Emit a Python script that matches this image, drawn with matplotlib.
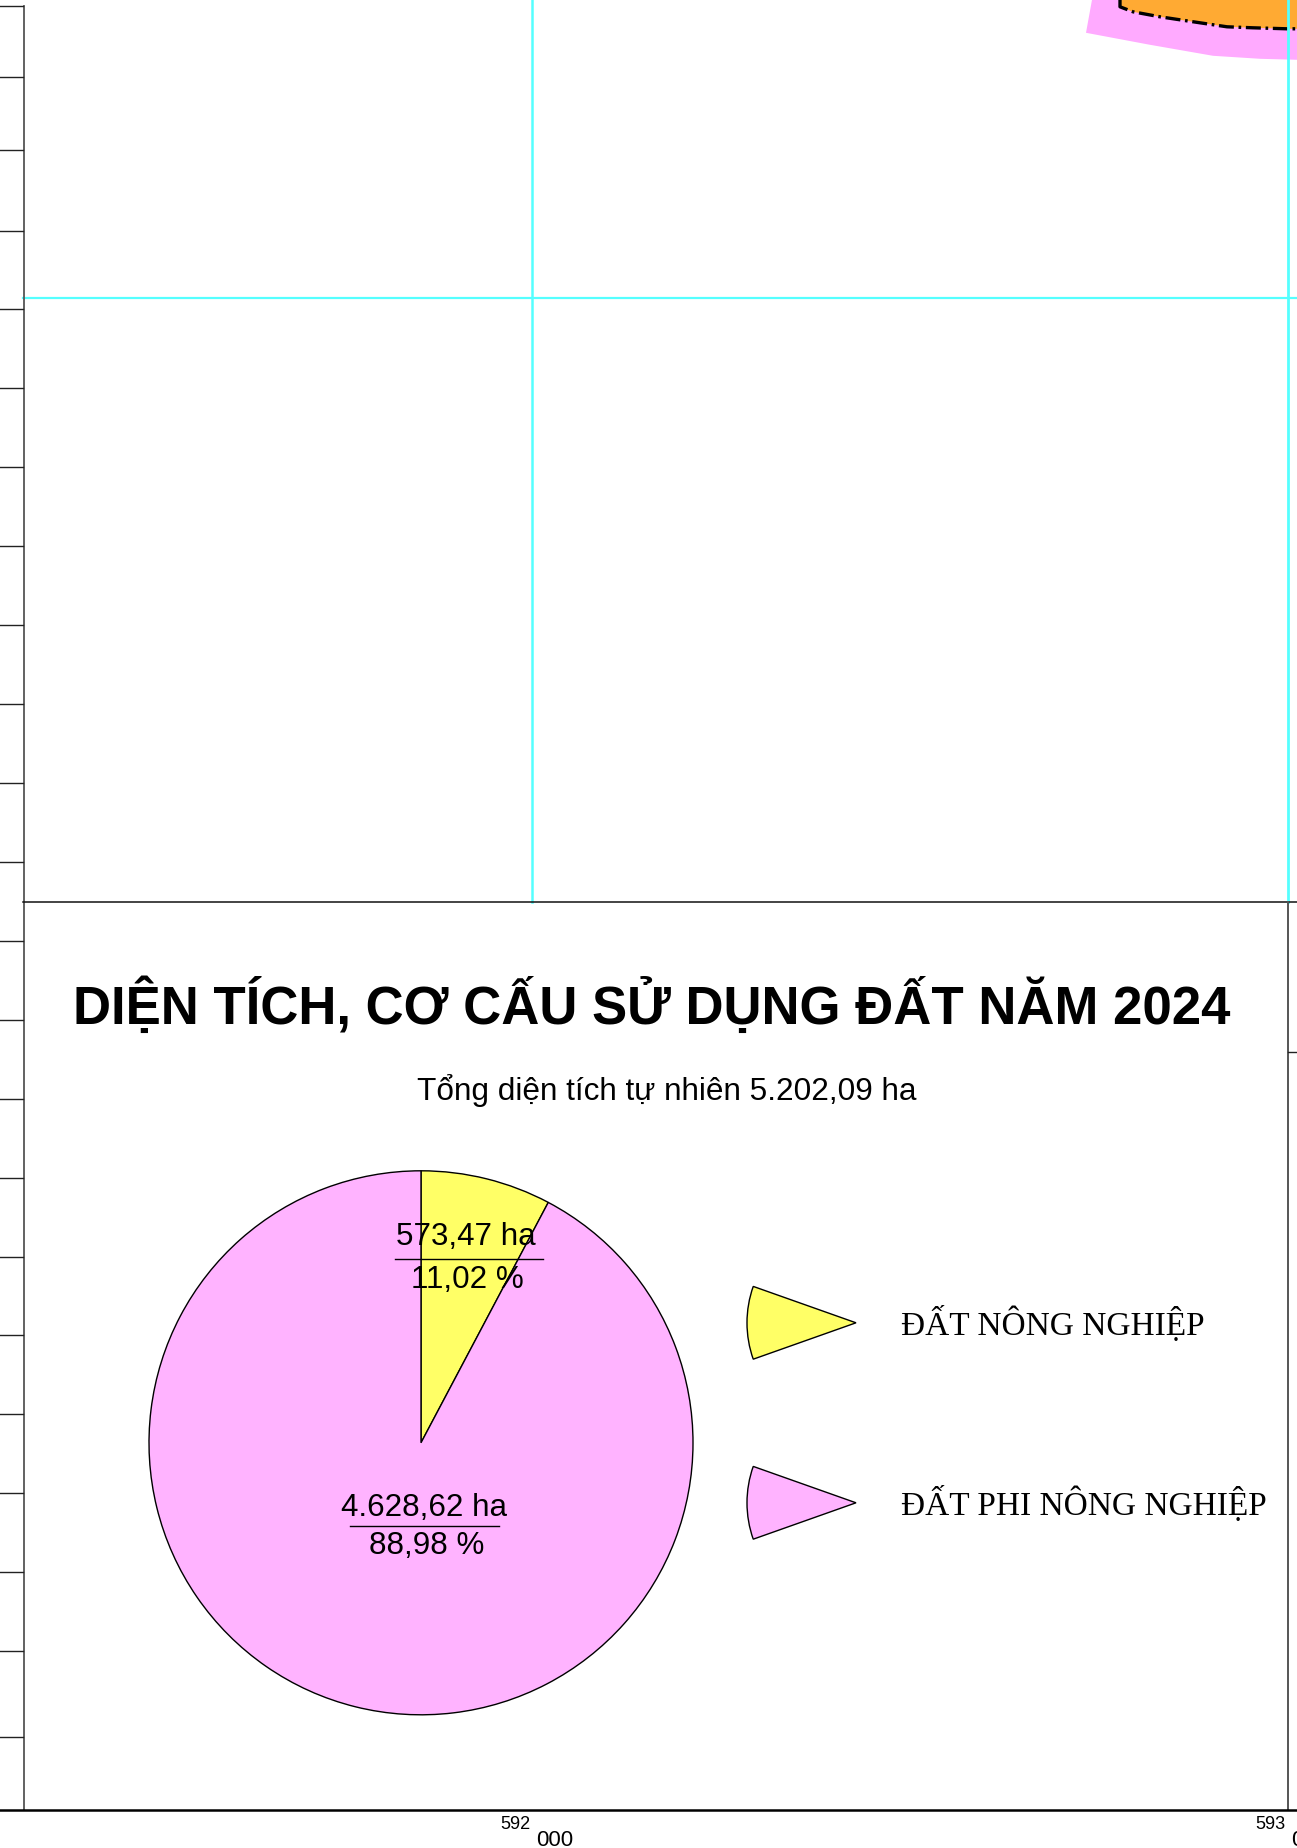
import matplotlib
matplotlib.use("Agg")
import matplotlib.pyplot as plt
from matplotlib.patches import Wedge, Polygon

# ---- data ----
categories = ["ĐẤT NÔNG NGHIỆP", "ĐẤT PHI NÔNG NGHIỆP"]
area_labels = ["573,47 ha", "4.628,62 ha"]
percent_labels = ["11,02 %", "88,98 %"]
drawn_shares = [7.75, 92.25]   # slice sizes as drawn in the picture
slice_colors = ["#FFFF66", "#FFB3FF"]
title = "DIỆN TÍCH, CƠ CẤU SỬ DỤNG ĐẤT NĂM 2024"
subtitle = "Tổng diện tích tự nhiên 5.202,09 ha"
left_ticks = [6, 77, 150, 231, 309, 388, 467, 546, 625, 704, 783, 862, 941, 1020,
              1099, 1178, 1257, 1335, 1414, 1493, 1572, 1651, 1737]
pink_area = [(1086, 33), (1150, 45), (1213, 56), (1260, 59), (1297, 60), (1297, 0), (1092, 0)]
orange_area = [(1120, 0), (1120, 7), (1133, 12), (1160, 17), (1200, 23), (1227, 27),
               (1253, 28), (1287, 29), (1297, 29), (1297, 0)]

W, H = 1297, 1849
fig = plt.figure(figsize=(W / 100, H / 100), dpi=100, facecolor="white")
ax = fig.add_axes([0, 0, 1, 1])

def Y(y):
    return H - y - 0.8

SANS = "Liberation Sans"
SERIF = "Liberation Serif"
CYAN = "#55FFFF"

# main pie
ax.pie(drawn_shares, colors=slice_colors, startangle=90, counterclock=False,
       center=(421, Y(1443)), radius=272,
       wedgeprops=dict(edgecolor="black", linewidth=1.0))
ax.set_xlim(0, W)
ax.set_ylim(0, H)
ax.set_aspect("auto")
ax.axis("off")

# map fragment at the top right
ax.add_patch(Polygon([(x, Y(y)) for x, y in pink_area], closed=True, fc="#FFAAFF", ec="none", zorder=1))
ax.add_patch(Polygon([(x, Y(y)) for x, y in orange_area], closed=True, fc="#FFAA33", ec="none", zorder=2))
ax.plot([p[0] for p in orange_area[:-1]], [Y(p[1]) for p in orange_area[:-1]], color="black",
        lw=2.4, ls=(0, (4.5, 1.4, 0.8, 1.4)), zorder=3)

# grid lines
ax.plot([532, 532], [Y(0) + 2, Y(902)], color=CYAN, lw=1.8, zorder=4)
ax.plot([1288, 1288], [Y(0) + 2, Y(902)], color=CYAN, lw=2.0, zorder=4)
ax.plot([23, W], [Y(298), Y(298)], color=CYAN, lw=1.6, zorder=4)

# frames
ax.plot([23.5, 23.5], [Y(6), Y(1810)], color="#555555", lw=1.3, zorder=5)
for t in left_ticks:
    ax.plot([0, 23], [Y(t), Y(t)], color="#222222", lw=1.0, zorder=5)
ax.plot([23, W], [Y(902), Y(902)], color="#111111", lw=1.1, zorder=5)
ax.plot([1288, 1288], [Y(902), Y(1810)], color="#555555", lw=1.4, zorder=5)
ax.plot([1288, W], [Y(1052), Y(1052)], color="#222222", lw=1.0, zorder=5)
ax.plot([0, W], [Y(1810), Y(1810)], color="black", lw=1.8, zorder=5)

# coordinate labels
ax.text(515, Y(1824), "592", family=SANS, fontsize=13, ha="center", va="center")
ax.text(555, Y(1840), "000", family=SANS, fontsize=16, ha="center", va="center")
ax.text(1270, Y(1824), "593", family=SANS, fontsize=13, ha="center", va="center")
ax.text(1291, Y(1840), "000", family=SANS, fontsize=16, ha="left", va="center")

# titles
ax.text(652, Y(1005), title, family=SANS, weight="bold", fontsize=38, ha="center", va="center")
ax.text(667, Y(1090), subtitle, family=SANS, fontsize=22.7, ha="center", va="center")

# pie labels
ax.text(466, Y(1236), area_labels[0], family=SANS, fontsize=22.6, ha="center", va="center", zorder=6)
ax.plot([395, 543], [Y(1259), Y(1259)], color="black", lw=1.0, zorder=6)
ax.text(467, Y(1279), percent_labels[0], family=SANS, fontsize=22.6, ha="center", va="center", zorder=6)
ax.text(424, Y(1507), area_labels[1], family=SANS, fontsize=22.6, ha="center", va="center", zorder=6)
ax.plot([350, 499], [Y(1526), Y(1526)], color="black", lw=1.0, zorder=6)
ax.text(427, Y(1545), percent_labels[1], family=SANS, fontsize=22.6, ha="center", va="center", zorder=6)

# legend
for cat, col, yc in zip(categories, slice_colors, [1323, 1503]):
    ax.add_patch(Wedge((856, Y(yc)), 109, 180 - 19.5, 180 + 19.5, fc=col, ec="black", lw=1.0, zorder=6))
    ax.text(901, Y(yc), cat, family=SERIF, fontsize=24, ha="left", va="center", zorder=6)

fig.savefig("out.png", dpi=100, facecolor="white")
